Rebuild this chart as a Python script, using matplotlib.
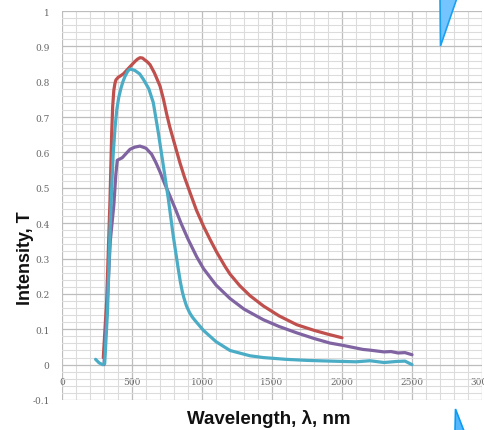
import matplotlib
matplotlib.use("Agg")
import matplotlib.pyplot as plt
from matplotlib.patches import Polygon
from matplotlib.ticker import MultipleLocator

# ---- data ----
wl_red = [295, 319, 343, 355, 362, 370, 378, 385, 400, 438, 480, 520, 540, 557, 575,
          590, 610, 629, 660, 700, 725, 748, 770, 795, 820, 843, 875, 914, 960, 1010,
          1060, 1105, 1164, 1200, 1270, 1343, 1438, 1550, 1676, 1800, 1900, 2000]
t_red = [0.02, 0.18, 0.467, 0.656, 0.73, 0.775, 0.795, 0.805, 0.812, 0.822, 0.84,
         0.857, 0.864, 0.868, 0.867, 0.862, 0.856, 0.848, 0.825, 0.788, 0.75, 0.708,
         0.672, 0.637, 0.602, 0.570, 0.530, 0.487, 0.437, 0.392, 0.352, 0.318, 0.278,
         0.256, 0.223, 0.195, 0.166, 0.138, 0.113, 0.097, 0.086, 0.076]

wl_purple = [300, 320, 345, 370, 385, 395, 430, 486, 520, 557, 600, 640, 670, 700,
             735, 771, 810, 850, 900, 962, 1010, 1100, 1200, 1300, 1438, 1550, 1676,
             1800, 1914, 2000, 2150, 2200, 2300, 2350, 2400, 2450, 2500]
t_purple = [0.0, 0.15, 0.35, 0.45, 0.54, 0.578, 0.585, 0.609, 0.615, 0.618, 0.612,
            0.595, 0.572, 0.545, 0.51, 0.477, 0.44, 0.40, 0.355, 0.305, 0.272, 0.225,
            0.187, 0.157, 0.127, 0.108, 0.09, 0.074, 0.061, 0.055, 0.043, 0.041,
            0.036, 0.037, 0.033, 0.034, 0.028]

wl_cyan = [240, 265, 290, 305, 325, 343, 355, 365, 378, 391, 405, 420, 435, 450, 470,
           486, 520, 555, 581, 620, 652, 688, 724, 760, 795, 831, 845, 860, 870, 880,
           890, 910, 930, 950, 1010, 1100, 1200, 1343, 1438, 1600, 1750, 1914, 2100,
           2200, 2300, 2390, 2450, 2500]
t_cyan = [0.015, 0.005, 0.0, 0.003, 0.15, 0.38, 0.5, 0.59, 0.666, 0.72, 0.755, 0.78,
          0.80, 0.815, 0.83, 0.836, 0.832, 0.822, 0.807, 0.78, 0.741, 0.656, 0.562,
          0.467, 0.363, 0.269, 0.235, 0.205, 0.19, 0.177, 0.165, 0.148, 0.135, 0.125,
          0.097, 0.065, 0.04, 0.025, 0.02, 0.015, 0.012, 0.01, 0.008, 0.011, 0.006,
          0.009, 0.01, 0.0]

x_ticks = [0, 500, 1000, 1500, 2000, 2500, 3000]
x_tick_labels = ["0", "500", "1000", "1500", "2000", "2500", "3000"]
y_ticks = [-0.1, 0, 0.1, 0.2, 0.3, 0.4, 0.5, 0.6, 0.7, 0.8, 0.9, 1.0]
y_tick_labels = ["-0.1", "0", "0.1", "0.2", "0.3", "0.4", "0.5", "0.6", "0.7",
                 "0.8", "0.9", "1"]

W, H = 485, 431
fig = plt.figure(figsize=(W / 100, H / 100), dpi=100)
ax = fig.add_axes([62 / W, 30 / H, (482 - 62) / W, (401 - 12) / H])

ax.plot(wl_red, t_red, color="#C0504D", lw=2.3, solid_capstyle="round",
        solid_joinstyle="round", zorder=3)
ax.plot(wl_purple, t_purple, color="#8064A2", lw=2.3, solid_capstyle="round",
        solid_joinstyle="round", zorder=3)
ax.plot(wl_cyan, t_cyan, color="#4BACC6", lw=2.3, solid_capstyle="round",
        solid_joinstyle="round", zorder=4)

ax.set_xlim(0, 3000)
ax.set_ylim(-0.1, 1.0)
ax.set_xticks(x_ticks)
ax.set_xticklabels(x_tick_labels)
ax.set_yticks(y_ticks)
ax.set_yticklabels(y_tick_labels)
ax.xaxis.set_minor_locator(MultipleLocator(100))
ax.yaxis.set_minor_locator(MultipleLocator(0.02))
ax.grid(which="major", color="#bdbdbd", lw=0.9, zorder=0)
ax.grid(which="minor", color="#dcdcdc", lw=0.8, zorder=0)
ax.set_axisbelow(True)

for s in ax.spines.values():
    s.set_visible(False)
ax.spines["bottom"].set_position(("data", 0))
ax.tick_params(which="both", length=0)
ax.tick_params(axis="x", pad=9, labelsize=6.5, labelcolor="#666666")
ax.tick_params(axis="y", pad=9, labelsize=6.5, labelcolor="#666666")
for lab in ax.get_xticklabels() + ax.get_yticklabels():
    lab.set_family("DejaVu Serif")

fig.text(26 / W, 1 - 258 / H, "Intensity, T", rotation=90, ha="center", va="center",
         fontsize=13, fontweight="bold", family="Liberation Sans", color="#111111")
fig.text(269 / W, 1 - 419 / H, "Wavelength, λ, nm", ha="center", va="center",
         fontsize=13.5, fontweight="bold", family="Liberation Sans", color="#111111")

# decorative blue triangles
def px(x, y):
    return (x / W, 1 - y / H)

tri1 = Polygon([px(440, -1), px(457, -1), px(440.5, 47)], closed=True,
               transform=fig.transFigure, facecolor="#74c4ff", edgecolor="#1aa0f0",
               lw=1.2, zorder=10)
tri2 = Polygon([px(455.5, 410), px(464, 432), px(455, 432)], closed=True,
               transform=fig.transFigure, facecolor="#55b8ff", edgecolor="#0a9cf5",
               lw=1.2, zorder=10)
fig.patches.extend([tri1, tri2])

fig.savefig("out.png", dpi=100)
